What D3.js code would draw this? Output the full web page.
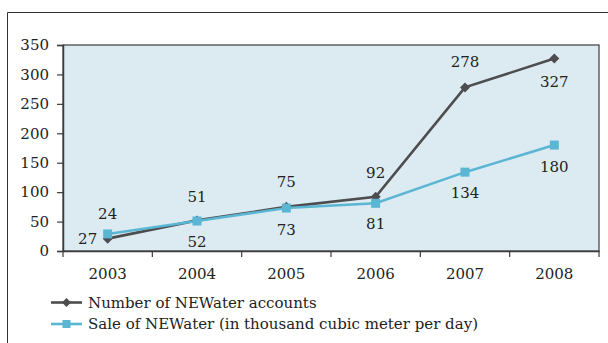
<!DOCTYPE html>
<html><head><meta charset="utf-8">
<script src="https://cdn.jsdelivr.net/npm/d3@7"></script>
<style>
html,body{margin:0;padding:0;background:#fff;}
svg{display:block;font-family:"DejaVu Serif",serif;}
</style></head>
<body>
<svg id="c" width="608" height="343"></svg>
<script>
const years = ["2003","2004","2005","2006","2007","2008"];
const accounts = [21, 52, 75, 92, 278, 327];
const sales = [29, 51, 73, 81, 134, 180];
const accountLabels = ["27","52","75","92","278","327"];
const salesLabels = ["24","51","73","81","134","180"];
const yTicks = [0,50,100,150,200,250,300,350];
const legendNames = ["Number of NEWater accounts","Sale of NEWater (in thousand cubic meter per day)"];

const svg = d3.select("#c");
const m = {l:63, r:599, t:45, b:251};
const x = d3.scaleBand().domain(years).range([m.l, m.r]);
const y = d3.scaleLinear().domain([0,350]).range([m.b, m.t]);
const ink = "#3c3c3c", txt = "#222";
const cA = "#4d4d4f", cS = "#5bb6d4";

// outer frame
svg.append("path").attr("d","M7.5,343V12.5H608").attr("fill","none").attr("stroke","#333").attr("stroke-width",1);

// plot background
svg.append("rect").attr("x",m.l).attr("y",m.t).attr("width",m.r-m.l).attr("height",m.b-m.t)
  .attr("fill","#dcebf2").attr("stroke",ink).attr("stroke-width",1.2);

// y axis
const ya = svg.append("g").attr("transform",`translate(${m.l},0)`)
  .call(d3.axisLeft(y).tickValues(yTicks).tickSize(6).tickPadding(8));
ya.select(".domain").attr("stroke",ink).attr("stroke-width",1.5);
ya.selectAll(".tick line").attr("stroke",ink).attr("stroke-width",1.2);
ya.selectAll("text").attr("font-family","DejaVu Serif").attr("font-size",15).attr("fill",txt);

// x axis: ticks at band boundaries
const xa = svg.append("g").attr("transform",`translate(0,${m.b})`)
  .call(d3.axisBottom(x).tickSize(0).tickPadding(17));
xa.select(".domain").attr("stroke",ink).attr("stroke-width",1.5);
xa.selectAll("text").attr("font-family","DejaVu Serif").attr("font-size",15).attr("fill",txt);
const bounds = years.map(d=>x(d)).concat([x(years[years.length-1])+x.bandwidth()]);
svg.selectAll(".xb").data(bounds).enter().append("line")
  .attr("x1",d=>d).attr("x2",d=>d).attr("y1",m.b).attr("y2",m.b+6)
  .attr("stroke",ink).attr("stroke-width",1.2);

const cx = d => x(d)+x.bandwidth()/2;
const line = d3.line().x((d,i)=>cx(years[i])).y(d=>y(d));

function diamond(g, px, py, s, col){
  g.append("path").attr("d",`M${px},${py-s}L${px+s},${py}L${px},${py+s}L${px-s},${py}Z`).attr("fill",col);
}
function square(g, px, py, s, col){
  g.append("rect").attr("x",px-s).attr("y",py-s).attr("width",2*s).attr("height",2*s).attr("fill",col);
}

// accounts series (below)
svg.append("path").datum(accounts).attr("d",line).attr("fill","none").attr("stroke",cA).attr("stroke-width",2.6);
const mkA = svg.append("g");
accounts.forEach((v,i)=>diamond(mkA, cx(years[i]), y(v), 5, cA));
// sales series (on top)
svg.append("path").datum(sales).attr("d",line).attr("fill","none").attr("stroke",cS).attr("stroke-width",2.6);
const mkS = svg.append("g");
sales.forEach((v,i)=>square(mkS, cx(years[i]), y(v), 4.5, cS));

// data labels: offsets [dx, dy]
const accOff = [[-20,5],[0,27],[0,-20],[0,-19],[0,-20],[0,28]];
const salOff = [[0,-15],[0,-19],[0,27],[0,26],[0,26],[0,27]];
const lab = svg.append("g").attr("font-family","DejaVu Serif").attr("font-size",15).attr("fill",txt).attr("text-anchor","middle");
accounts.forEach((v,i)=>lab.append("text").attr("x",cx(years[i])+accOff[i][0]).attr("y",y(v)+accOff[i][1]).text(accountLabels[i]));
sales.forEach((v,i)=>lab.append("text").attr("x",cx(years[i])+salOff[i][0]).attr("y",y(sales[i])+salOff[i][1]).text(salesLabels[i]));

// legend
const lg = svg.append("g");
const cols = [cA, cS];
legendNames.forEach((n,i)=>{
  const ly = 302.5 + i*21.5;
  lg.append("line").attr("x1",51).attr("x2",82).attr("y1",ly).attr("y2",ly).attr("stroke",cols[i]).attr("stroke-width",2.6);
  if(i===0) diamond(lg, 66.5, ly, 4.5, cols[i]); else square(lg, 66.5, ly, 4, cols[i]);
  lg.append("text").attr("x",88).attr("y",ly+5).attr("font-family","DejaVu Serif").attr("font-size",15).attr("fill",txt).text(n);
});
</script>
</body></html>
